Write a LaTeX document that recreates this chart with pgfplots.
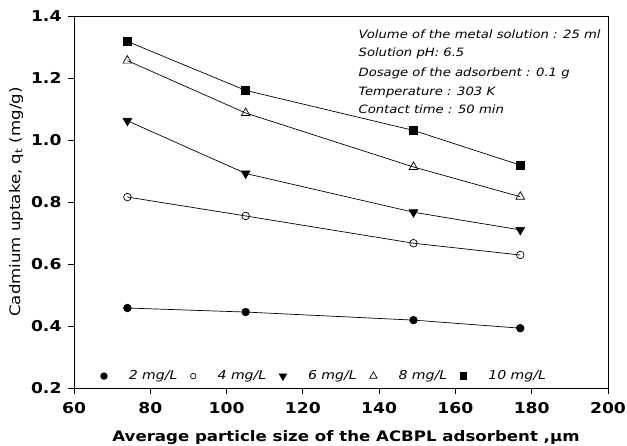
\documentclass[border=0pt]{standalone}
\usepackage{fontspec}
\setmainfont{DejaVu Sans}[FakeStretch=1.15]
\setsansfont{DejaVu Sans}[FakeStretch=1.15]
\usepackage{pgfplots}
\pgfplotsset{compat=1.18}

\begin{document}
\begin{tikzpicture}
\begin{axis}[
  scale only axis,
  width=534bp, height=372bp,
  xmin=60, xmax=200,
  ymin=0.2, ymax=1.4,
  xtick={60,80,100,120,140,160,180,200},
  ytick={0.2,0.4,0.6,0.8,1.0,1.2,1.4},
  tick align=outside,
  xtick pos=bottom, ytick pos=left,
  major tick length=6bp,
  axis line style={line width=0.8pt},
  every tick/.style={black, line width=0.8pt},
  /pgf/number format/assume math mode=true,
  yticklabel style={/pgf/number format/fixed, /pgf/number format/fixed zerofill,
    /pgf/number format/precision=1, xshift=-3bp},
  tick label style={font=\bfseries\fontsize{15}{17}\selectfont},
  xticklabel style={yshift=-5bp},
  xlabel={Average particle size of the ACBPL adsorbent ,µm},
  ylabel={Cadmium uptake, q\textsubscript{t} (mg/g)},
  xlabel style={font=\bfseries\fontsize{14.5}{16}\selectfont, yshift=-10bp, xshift=5bp},
  ylabel style={font=\fontsize{14.5}{17}\selectfont, yshift=1bp},
  legend columns=5,
  legend style={draw=none, fill=none, at={(rel axis cs:0.044,0.032)}, anchor=west,
    font=\itshape\fontsize{12.3}{14}\selectfont,
    /tikz/every odd column/.append style={column sep=19.5bp},
    /tikz/every even column/.append style={column sep=11bp}},
  every axis plot/.append style={black, line width=0.7pt, mark options={solid}},
]
\addplot[mark=*, mark size=3.8bp, forget plot] coordinates {(74,0.458) (105,0.445) (149,0.419) (177,0.393)};
\addplot[mark=o, mark size=3.8bp, mark options={fill=white}, forget plot] coordinates {(74,0.816) (105,0.755) (149,0.667) (177,0.629)};
\addplot[mark=triangle*, mark size=5bp, mark options={rotate=180}, forget plot] coordinates {(74,1.062) (105,0.892) (149,0.767) (177,0.710)};
\addplot[mark=triangle, mark size=5bp, mark options={fill=white}, forget plot] coordinates {(74,1.256) (105,1.087) (149,0.913) (177,0.817)};
\addplot[mark=square*, mark size=4bp, forget plot] coordinates {(74,1.318) (105,1.160) (149,1.031) (177,0.919)};

\addlegendimage{only marks, black, mark=*, mark size=3.3bp}
\addlegendentry{2 mg/L}
\addlegendimage{only marks, black, mark=o, line width=0.7pt, mark size=2.8bp}
\addlegendentry{4 mg/L}
\addlegendimage{only marks, black, mark=triangle*, mark size=4.2bp, mark options={rotate=180}}
\addlegendentry{6 mg/L}
\addlegendimage{only marks, black, mark=triangle, line width=0.7pt, mark size=4.2bp}
\addlegendentry{8 mg/L}
\addlegendimage{only marks, black, mark=square*, mark size=3.3bp}
\addlegendentry{10 mg/L}

\node[anchor=base west, font=\itshape\fontsize{11.5}{13}\selectfont] at (axis cs:133.7,1.329) {Volume of the metal solution : 25 ml};
\node[anchor=base west, font=\itshape\fontsize{11.5}{13}\selectfont] at (axis cs:133.7,1.268) {Solution pH: 6.5};
\node[anchor=base west, font=\itshape\fontsize{11.5}{13}\selectfont] at (axis cs:133.7,1.206) {Dosage of the adsorbent : 0.1 g};
\node[anchor=base west, font=\itshape\fontsize{11.5}{13}\selectfont] at (axis cs:133.7,1.145) {Temperature : 303 K};
\node[anchor=base west, font=\itshape\fontsize{11.5}{13}\selectfont] at (axis cs:133.7,1.087) {Contact time : 50 min};

\coordinate (bl) at (rel axis cs:0,0);
\coordinate (tr) at (rel axis cs:1,1);
\end{axis}
\pgfresetboundingbox
\path ([shift={(-74bp,-58bp)}]bl) rectangle ([shift={(19bp,16bp)}]tr);
\end{tikzpicture}
\end{document}
